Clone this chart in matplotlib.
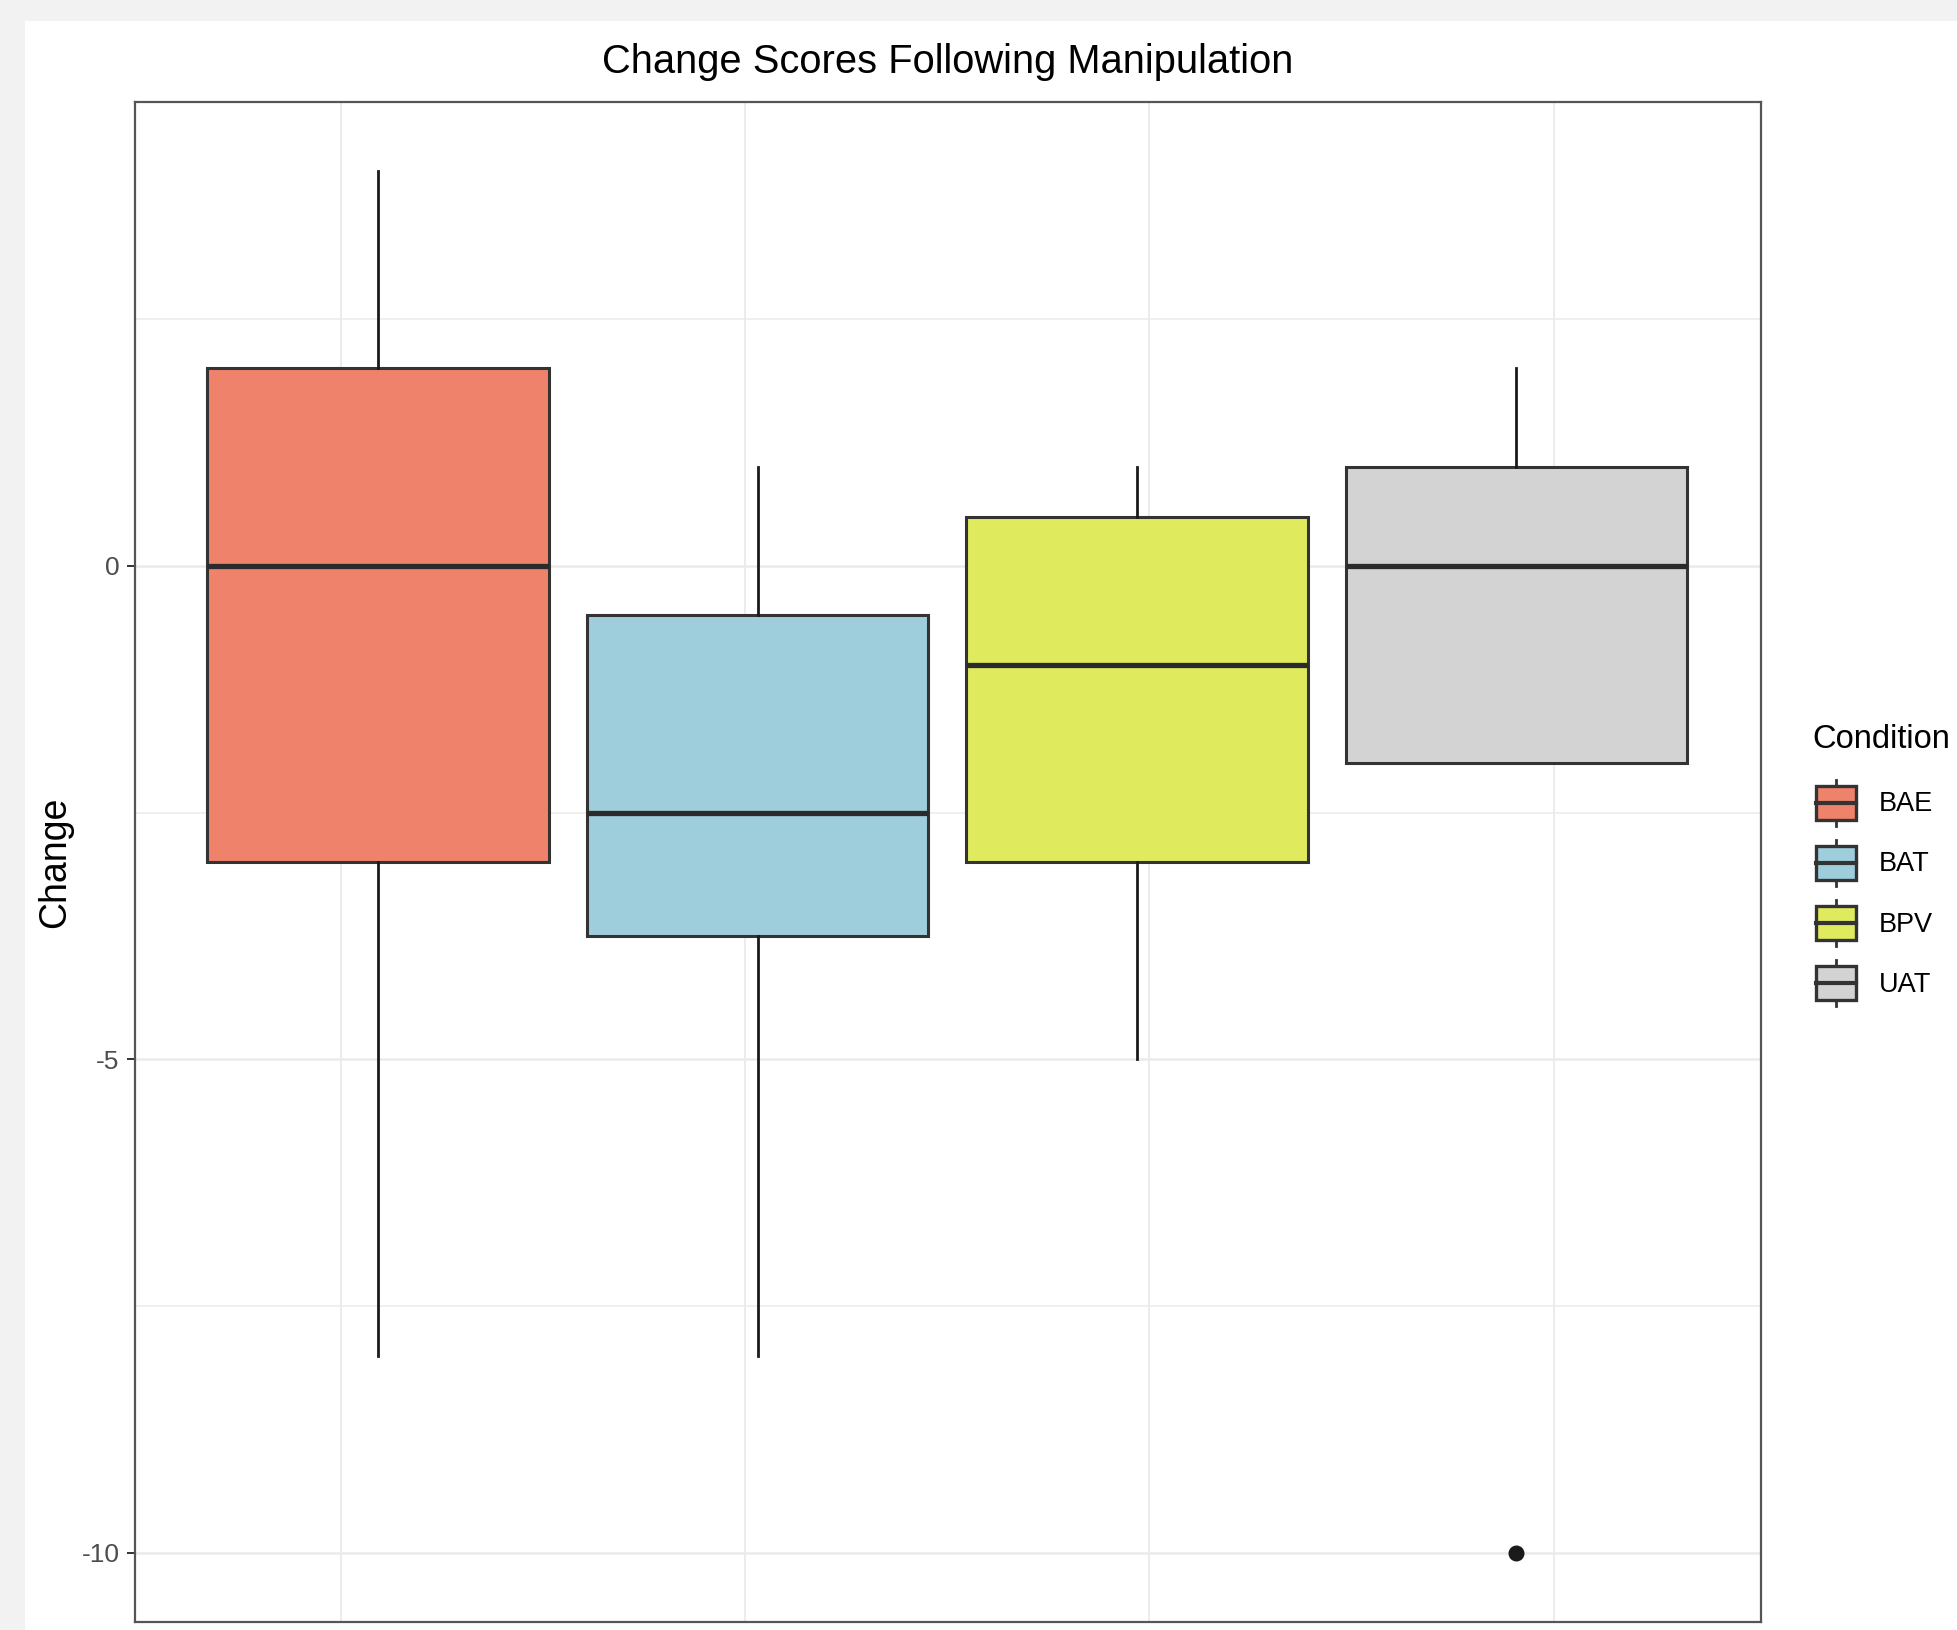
import matplotlib
matplotlib.use("Agg")
import matplotlib.pyplot as plt
from matplotlib.patches import Rectangle, Patch
from matplotlib.lines import Line2D
from matplotlib.legend_handler import HandlerBase

# data
conditions = ["BAE", "BAT", "BPV", "UAT"]
colors = ["#EE826A", "#9ECDDC", "#DFEA5C", "#D3D3D4"]
q1 = [-3.0, -3.75, -3.0, -2.0]
medians = [0.0, -2.5, -1.0, 0.0]
q3 = [2.0, -0.5, 0.5, 1.0]
whisker_lo = [-8.0, -8.0, -5.0, -2.0]
whisker_hi = [4.0, 1.0, 1.0, 2.0]
outliers = [[], [], [], [-10.0]]

y_major = [-10, -5, 0]
y_minor = [-7.5, -2.5, 2.5]
x_grid = [-0.099, 0.967, 2.033, 3.099]

plt.rcParams["font.family"] = ["Liberation Sans", "DejaVu Sans"]


class BoxKeyHandler(HandlerBase):
    # small boxplot glyph like ggplot's legend key
    def create_artists(self, legend, orig_handle, xdescent, ydescent,
                       width, height, fontsize, trans):
        x0, y0 = -xdescent, -ydescent
        cx = x0 + width / 2
        lo = y0 + height * 0.13
        hi = y0 + height * 0.87
        mid = (lo + hi) / 2
        w1 = Line2D([cx, cx], [y0, lo], color="#333333", lw=2.0, transform=trans)
        w2 = Line2D([cx, cx], [hi, y0 + height], color="#333333", lw=2.0, transform=trans)
        rect = Rectangle((x0, lo), width, hi - lo, facecolor=orig_handle.get_facecolor(),
                         edgecolor="#333333", lw=2.4, transform=trans)
        med = Line2D([x0, x0 + width], [mid, mid], color="#333333", lw=3.0, transform=trans)
        return [w1, w2, rect, med]


W, H = 1957, 1630
fig = plt.figure(figsize=(W / 100, H / 100), dpi=100)
fig.patch.set_facecolor("#F2F2F2")
fig.patches.append(Rectangle((25 / W, 0), 1, 1 - 21 / H, transform=fig.transFigure,
                             facecolor="white", edgecolor="none", zorder=-5))

ax = fig.add_axes([135 / W, 1 - 1622 / H, (1761 - 135) / W, (1622 - 102) / H])
ax.set_axisbelow(True)

stats = []
for i, name in enumerate(conditions):
    stats.append(dict(label=name, med=medians[i], q1=q1[i], q3=q3[i],
                      whislo=whisker_lo[i], whishi=whisker_hi[i], fliers=outliers[i]))

bp = ax.bxp(stats, positions=range(len(conditions)), widths=0.9, patch_artist=True,
            showcaps=False,
            boxprops=dict(edgecolor="#333333", linewidth=2.2),
            medianprops=dict(color="#2b2b2b", linewidth=3.8, solid_capstyle="butt"),
            whiskerprops=dict(color="#1a1a1a", linewidth=2.0),
            flierprops=dict(marker="o", markerfacecolor="#1a1a1a",
                            markeredgecolor="#1a1a1a", markersize=10.5))
for patch, c in zip(bp["boxes"], colors):
    patch.set_facecolor(c)

ax.set_xlim(-0.641, 3.645)
ax.set_ylim(-10.7, 4.7)

ax.set_yticks(y_major)
ax.set_yticks(y_minor, minor=True)
ax.set_yticklabels([str(v) for v in y_major])
ax.set_xticks(x_grid)
ax.tick_params(axis="x", length=0, labelbottom=False)
ax.tick_params(axis="y", which="major", length=6, width=1.4, color="#333333",
               labelsize=19, labelcolor="#4D4D4D", pad=5)
ax.tick_params(axis="y", which="minor", length=0)

ax.grid(True, which="major", axis="y", color="#EBEBEB", linewidth=1.8)
ax.grid(True, which="minor", axis="y", color="#EBEBEB", linewidth=1.1)
ax.grid(True, which="major", axis="x", color="#EBEBEB", linewidth=1.3)

for s in ax.spines.values():
    s.set_color("#555555")
    s.set_linewidth(1.6)

fig.text(948 / W, 1 - 73 / H, "Change Scores Following Manipulation",
         ha="center", va="baseline", fontsize=28.7, color="black")
fig.text(55 / W, 1 - 862 / H, "Change", rotation=90, ha="center", va="center",
         fontsize=27, color="black")

# legend: title drawn as its own text, keys via a custom handler
fig.text(1812 / W, 1 - 748 / H, "Condition", ha="left", va="baseline",
         fontsize=23.5, color="black")
handles = [Patch(facecolor=c) for c in colors]
leg = fig.legend(handles, conditions, handler_map={Patch: BoxKeyHandler()},
                 loc="upper left", bbox_to_anchor=(1816 / W, 1 - 780 / H),
                 frameon=False, borderpad=0, borderaxespad=0,
                 fontsize=19.5, handlelength=1.48, handleheight=2.234,
                 labelspacing=0.52, handletextpad=0.85)

fig.savefig("out.png", dpi=100, facecolor=fig.get_facecolor())
